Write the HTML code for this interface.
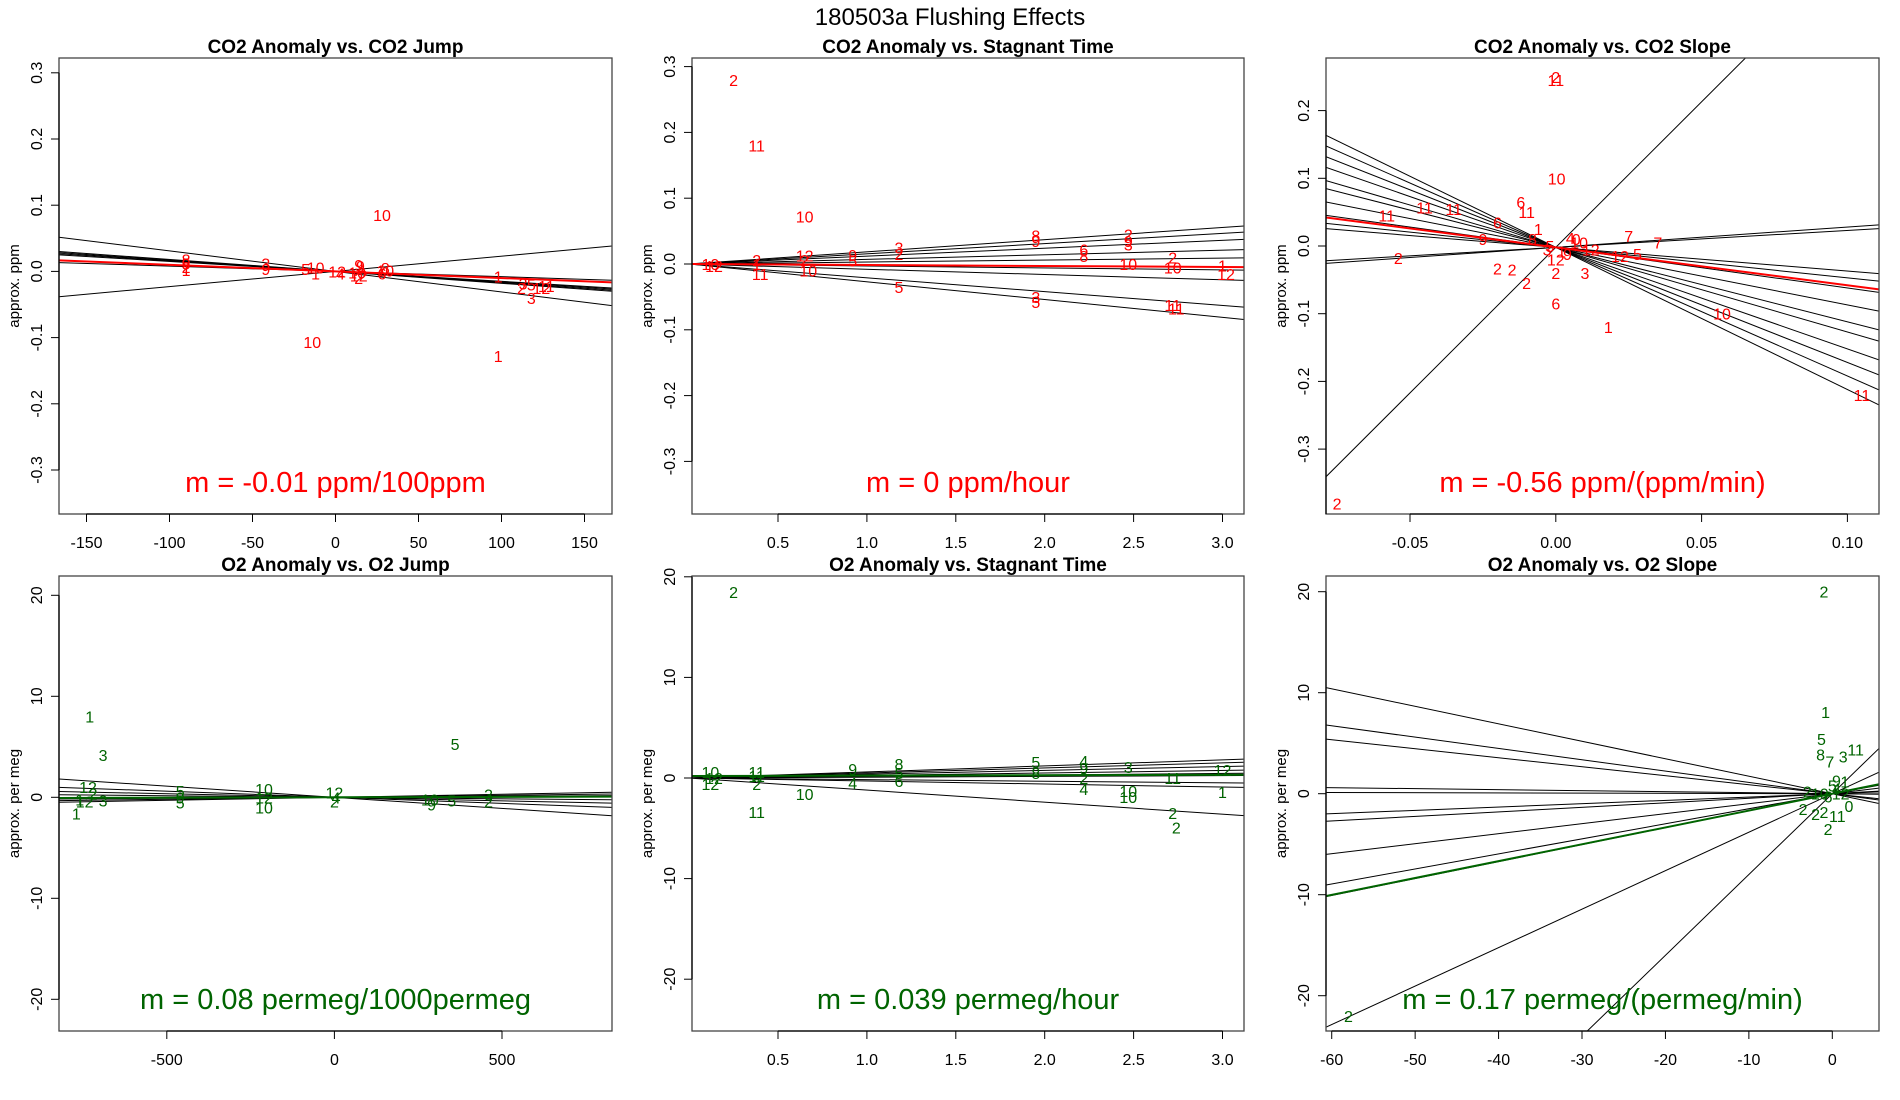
<!DOCTYPE html>
<html><head><meta charset="utf-8"><style>
html,body{margin:0;padding:0;background:#fff;overflow:hidden;width:1900px;height:1100px;}
svg{display:block;font-family:"Liberation Sans",sans-serif;overflow:hidden;}
</style></head><body>
<svg id="fig" width="1900" height="1100" viewBox="0 0 1900 1100">
<text x="950" y="25" text-anchor="middle" font-size="24">180503a   Flushing Effects</text>
</svg>
<script>
// ---------- Panel 1: CO2 Anomaly vs CO2 Jump ----------
const p1Labels = ["8","5","2","1","3","9","5","10","1","12","4","9","10","12","2","9","8","10","6","1","3","5","12","11","2","10","10","1","3"];
const p1X = [-90,-90,-90,-90,-42,-42,-18,-12,-12,1,3,15,13,14,14,14,30,30,28,98,113,118,124,127,112,28,-14,98,118];
const p1Y = [0.018,0.012,0.007,0.002,0.012,0.004,0.004,0.006,-0.003,0.0,-0.003,0.008,-0.002,-0.006,-0.01,0.01,0.005,0.001,-0.003,-0.008,-0.018,-0.02,-0.025,-0.022,-0.025,0.085,-0.107,-0.128,-0.04];
const p1Slopes = [-0.00031,0.00023,-0.00018,-0.00017,-0.00016,-0.00015,-0.0001,-0.00008];
const p1Fit = [0.0, -0.0001];
const p1XTicks = [-150,-100,-50,0,50,100,150];
const p1YTicks = [-0.3,-0.2,-0.1,0.0,0.1,0.2,0.3];

// ---------- Panel 2: CO2 Anomaly vs Stagnant Time ----------
const p2Labels = ["10","12","1","2","11","12","2","10","5","9","3","2","5","8","9","3","5","6","8","2","9","3","10","2","10","11","11","1","12","2","11","10"];
const p2X = [0.12,0.14,0.38,0.38,0.40,0.65,0.65,0.67,0.92,0.92,1.18,1.18,1.18,1.95,1.95,1.95,1.95,2.22,2.22,2.47,2.47,2.47,2.47,2.72,2.72,2.72,2.74,3.0,3.02,0.25,0.38,0.65];
const p2Y = [0.0,-0.003,0.0,0.006,-0.015,0.013,0.006,-0.01,0.005,0.014,0.025,0.015,-0.035,0.043,0.035,-0.05,-0.058,0.022,0.012,0.045,0.035,0.03,0.0,0.01,-0.005,-0.062,-0.068,-0.002,-0.015,0.28,0.18,0.072];
const p2Slopes = [0.0185,0.0155,0.012,0.007,0.003,-0.003,-0.008,-0.021,-0.027];
const p2Fit = [0.0, -0.0015];
const p2XTicks = [0.5,1.0,1.5,2.0,2.5,3.0];
const p2YTicks = [-0.3,-0.2,-0.1,0.0,0.1,0.2,0.3];

// ---------- Panel 3: CO2 Anomaly vs CO2 Slope ----------
const p3Labels = ["2","11","10","6","11","11","11","11","6","1","8","9","3","2","12","2","2","2","2","6","1","10","11","2","7","7","12","5","3","4","10","1","5","9","0","12"];
const p3X = [0.0,0.0,0.0003,-0.012,-0.01,-0.058,-0.045,-0.035,-0.02,-0.006,-0.008,-0.025,-0.003,-0.054,0.0,-0.02,-0.015,-0.01,0.0,0.0,0.018,0.057,0.105,-0.075,0.025,0.035,0.022,0.028,0.01,0.005,0.008,0.002,-0.002,0.004,0.007,0.012];
const p3Y = [0.25,0.245,0.1,0.065,0.05,0.045,0.057,0.055,0.035,0.025,0.01,0.01,-0.005,-0.018,-0.02,-0.033,-0.035,-0.055,-0.04,-0.085,-0.12,-0.1,-0.22,-0.38,0.015,0.005,-0.015,-0.012,-0.04,0.012,0.005,-0.008,0.0,-0.012,0.01,-0.005];
const p3Slopes = [-2.1,-1.9,-1.7,-1.5,-1.25,-1.1,-0.85,-0.6,-0.45,-0.35,0.25,0.3,4.3];
const p3Fit = [-0.002, -0.56];
const p3XTicks = [-0.05,0.00,0.05,0.10];
const p3YTicks = [-0.4,-0.3,-0.2,-0.1,0.0,0.1,0.2];

// ---------- Panel 4: O2 Anomaly vs O2 Jump ----------
const p4Labels = ["1","3","12","2","1","12","3","5","9","5","10","12","10","12","4","2","10","5","9","3","2","5","1"];
const p4X = [-730,-690,-735,-720,-760,-745,-690,-460,-460,-460,-210,-210,-210,0,5,0,285,350,290,460,460,360,-770];
const p4Y = [8.0,4.2,1.0,0.4,-0.2,-0.4,-0.3,0.6,0.0,-0.5,0.8,0.0,-1.0,0.5,0.0,-0.4,-0.2,-0.3,-0.7,0.3,-0.4,5.3,-1.6];
const p4Slopes = [-0.0022,-0.0012,-0.0007,-0.0003,0.0002,0.0004,0.0006];
const p4Fit = [0.0, 0.00008];
const p4XTicks = [-500,0,500];
const p4YTicks = [-20,-10,0,10,20];

// ---------- Panel 5: O2 Anomaly vs Stagnant Time ----------
const p5Labels = ["10","12","12","11","2","11","10","9","4","8","5","6","5","8","4","9","2","4","3","10","10","11","2","2","12","1","2","11"];
const p5X = [0.12,0.14,0.12,0.38,0.38,0.38,0.65,0.92,0.92,1.18,1.18,1.18,1.95,1.95,2.22,2.22,2.22,2.22,2.47,2.47,2.47,2.72,2.72,2.74,3.0,3.0,0.25,0.38];
const p5Y = [0.6,0.0,-0.6,0.6,-0.6,0.2,-1.6,0.9,-0.5,1.4,0.5,-0.3,1.6,0.5,1.7,1.0,0.0,-1.1,1.1,-1.3,-1.9,0.0,-3.5,-4.9,0.8,-1.4,18.5,-3.4];
const p5Slopes = [0.6,0.5,0.38,0.25,0.15,0.08,-0.16,-0.3,-1.2];
const p5Fit = [0.2, 0.039];
const p5XTicks = [0.5,1.0,1.5,2.0,2.5,3.0];
const p5YTicks = [-20,-10,0,10,20];

// ---------- Panel 6: O2 Anomaly vs O2 Slope ----------
const p6Labels = ["2","1","5","8","7","3","11","9","1","10","2","2","2","2","11","2","2","0","4","6","12","5"];
const p6X = [-1.0,-0.8,-1.3,-1.4,-0.3,1.3,2.8,0.5,1.5,-1.5,-3.5,-2.0,-1.0,-0.5,0.6,-58,-3.0,2.0,0.5,-0.5,1.0,0.0];
const p6Y = [20.0,8.1,5.4,3.9,3.2,3.7,4.4,1.3,1.2,0.0,-1.5,-2.0,-1.8,-3.5,-2.2,-22.0,0.2,-1.2,0.5,-0.3,0.0,0.8];
const p6Slopes = [-0.173,-0.112,-0.089,-0.01,-0.002,0.033,0.045,0.099,0.149,0.168,0.381,0.80];
const p6Fit = [0.0, 0.167];
const p6XTicks = [-60,-50,-40,-30,-20,-10,0];
const p6YTicks = [-20,-10,0,10,20];

const NS = "http://www.w3.org/2000/svg";
const fig = document.getElementById("fig");
function mk(tag, attrs, parent) {
  const e = document.createElementNS(NS, tag);
  for (const k in attrs) e.setAttribute(k, attrs[k]);
  parent.appendChild(e);
  return e;
}

function panel(opt) {
  const g = mk("g", {}, fig);
  
  
  const L = opt.box[0], T = opt.box[1], R = opt.box[2], B = opt.box[3];
  const sx = v => opt.px0 + (v - opt.x0) * opt.kx;
  const sy = v => opt.py0 - (v - opt.y0) * opt.ky;
  const xmin = (L - opt.px0) / opt.kx + opt.x0, xmax = (R - opt.px0) / opt.kx + opt.x0;
  const cid = "clip-" + opt.name;
  const defs = mk("defs", {}, g);
  const cp = mk("clipPath", {id: cid}, defs);
  mk("rect", {x: L, y: T, width: R - L, height: B - T}, cp);
  const plotArea = mk("g", {"clip-path": "url(#" + cid + ")"}, g);

  opt.slopes.forEach((s, i) => {
    const ln = mk("line", {x1: sx(xmin), y1: sy(opt.icpt + s * xmin), x2: sx(xmax), y2: sy(opt.icpt + s * xmax), stroke: "#000", "stroke-width": 1}, plotArea);
    
    
  });
  const fl = mk("line", {x1: sx(xmin), y1: sy(opt.fit[0] + opt.fit[1] * xmin), x2: sx(xmax), y2: sy(opt.fit[0] + opt.fit[1] * xmax), stroke: opt.color, "stroke-width": 2}, plotArea);
  
  

  opt.labels.forEach((lab, i) => {
    const t = mk("text", {x: sx(opt.xs[i]), y: sy(opt.ys[i]) + 6, "text-anchor": "middle", "font-size": 16, fill: opt.color}, plotArea);
    t.textContent = lab;
    
    
  });

  const fr = mk("rect", {x: L, y: T, width: R - L, height: B - T, fill: "none", stroke: "#444", "stroke-width": 1.3}, g);
  
  

  const xa = mk("g", {}, g);
  
  
  const xs0 = sx(opt.xticks[0]), xs1 = sx(opt.xticks[opt.xticks.length - 1]);
  mk("line", {x1: xs0, y1: B, x2: xs1, y2: B, stroke: "#000", "stroke-width": 1.3}, xa);
  opt.xticks.forEach(v => {
    mk("line", {x1: sx(v), y1: B, x2: sx(v), y2: B + 8, stroke: "#000", "stroke-width": 1}, xa);
    const t = mk("text", {x: sx(v), y: B + 34, "text-anchor": "middle", "font-size": 16}, xa);
    t.textContent = opt.xfmt(v);
    
    
  });
  const ya = mk("g", {}, g);
  
  
  const ys0 = sy(opt.yticks[0]), ys1 = sy(opt.yticks[opt.yticks.length - 1]);
  mk("line", {x1: L, y1: Math.min(ys0, B), x2: L, y2: Math.max(ys1, T), stroke: "#000", "stroke-width": 1.3}, ya);
  opt.yticks.forEach(v => {
    const y = sy(v);
    if (y > B + 1 || y < T - 1) return;
    mk("line", {x1: L - 8, y1: y, x2: L, y2: y, stroke: "#000", "stroke-width": 1}, ya);
    const t = mk("text", {x: L - 17, y: y, "text-anchor": "middle", "font-size": 16, transform: "rotate(-90 " + (L - 17) + " " + y + ")"}, ya);
    t.textContent = opt.yfmt(v);
    
    
  });
  const yt = mk("text", {x: L - 40, y: (T + B) / 2, "text-anchor": "middle", "font-size": 15, transform: "rotate(-90 " + (L - 40) + " " + ((T + B) / 2) + ")"}, g);
  yt.textContent = opt.ytitle;
  
  
  const tt = mk("text", {x: (L + R) / 2, y: T - 5, "text-anchor": "middle", "font-size": 19, "font-weight": "bold"}, g);
  tt.textContent = opt.title;
  
  
  const mt = mk("text", {x: (L + R) / 2, y: B - 22, "text-anchor": "middle", "font-size": 29, fill: opt.color}, g);
  mt.textContent = opt.mtext;
  
  
}

const f1 = v => v.toFixed(1);
const f0 = v => String(v);
const f2 = v => v.toFixed(2);
const RED = "#ff0000", GRN = "#006400";

panel({name: "co2-jump-panel", box: [59, 58, 612, 514], px0: 335.5, x0: 0, kx: 1.66, py0: 271.4, y0: 0, ky: 662,
  labels: p1Labels, xs: p1X, ys: p1Y, slopes: p1Slopes, icpt: 0, fit: p1Fit, color: RED,
  xticks: p1XTicks, yticks: p1YTicks, xfmt: f0, yfmt: f1, ytitle: "approx. ppm",
  title: "CO2 Anomaly vs. CO2 Jump", mtext: "m = -0.01 ppm/100ppm"});
panel({name: "co2-stagnant-panel", box: [692, 58, 1244, 514], px0: 778, x0: 0.5, kx: 177.8, py0: 264, y0: 0, ky: 658,
  labels: p2Labels, xs: p2X, ys: p2Y, slopes: p2Slopes, icpt: 0, fit: p2Fit, color: RED,
  xticks: p2XTicks, yticks: p2YTicks, xfmt: f1, yfmt: f1, ytitle: "approx. ppm",
  title: "CO2 Anomaly vs. Stagnant Time", mtext: "m = 0 ppm/hour"});
panel({name: "co2-slope-panel", box: [1326, 58, 1879, 514], px0: 1555.8, x0: 0, kx: 2916, py0: 246, y0: 0, ky: 677,
  labels: p3Labels, xs: p3X, ys: p3Y, slopes: p3Slopes, icpt: -0.002, fit: p3Fit, color: RED,
  xticks: p3XTicks, yticks: p3YTicks, xfmt: f2, yfmt: f1, ytitle: "approx. ppm",
  title: "CO2 Anomaly vs. CO2 Slope", mtext: "m = -0.56 ppm/(ppm/min)"});
panel({name: "o2-jump-panel", box: [59, 576, 612, 1031], px0: 334.4, x0: 0, kx: 0.3352, py0: 797.3, y0: 0, ky: 10.1,
  labels: p4Labels, xs: p4X, ys: p4Y, slopes: p4Slopes, icpt: 0, fit: p4Fit, color: GRN,
  xticks: p4XTicks, yticks: p4YTicks, xfmt: f0, yfmt: f0, ytitle: "approx. per meg",
  title: "O2 Anomaly vs. O2 Jump", mtext: "m = 0.08 permeg/1000permeg"});
panel({name: "o2-stagnant-panel", box: [692, 576, 1244, 1031], px0: 778, x0: 0.5, kx: 177.8, py0: 778, y0: 0, ky: 10.06,
  labels: p5Labels, xs: p5X, ys: p5Y, slopes: p5Slopes, icpt: 0, fit: p5Fit, color: GRN,
  xticks: p5XTicks, yticks: p5YTicks, xfmt: f1, yfmt: f0, ytitle: "approx. per meg",
  title: "O2 Anomaly vs. Stagnant Time", mtext: "m = 0.039 permeg/hour"});
panel({name: "o2-slope-panel", box: [1326, 576, 1879, 1031], px0: 1832.3, x0: 0, kx: 8.343, py0: 793.7, y0: 0, ky: 10.1,
  labels: p6Labels, xs: p6X, ys: p6Y, slopes: p6Slopes, icpt: 0, fit: p6Fit, color: GRN,
  xticks: p6XTicks, yticks: p6YTicks, xfmt: f0, yfmt: f0, ytitle: "approx. per meg",
  title: "O2 Anomaly vs. O2 Slope", mtext: "m = 0.17 permeg/(permeg/min)"});
</script>
</body></html>
